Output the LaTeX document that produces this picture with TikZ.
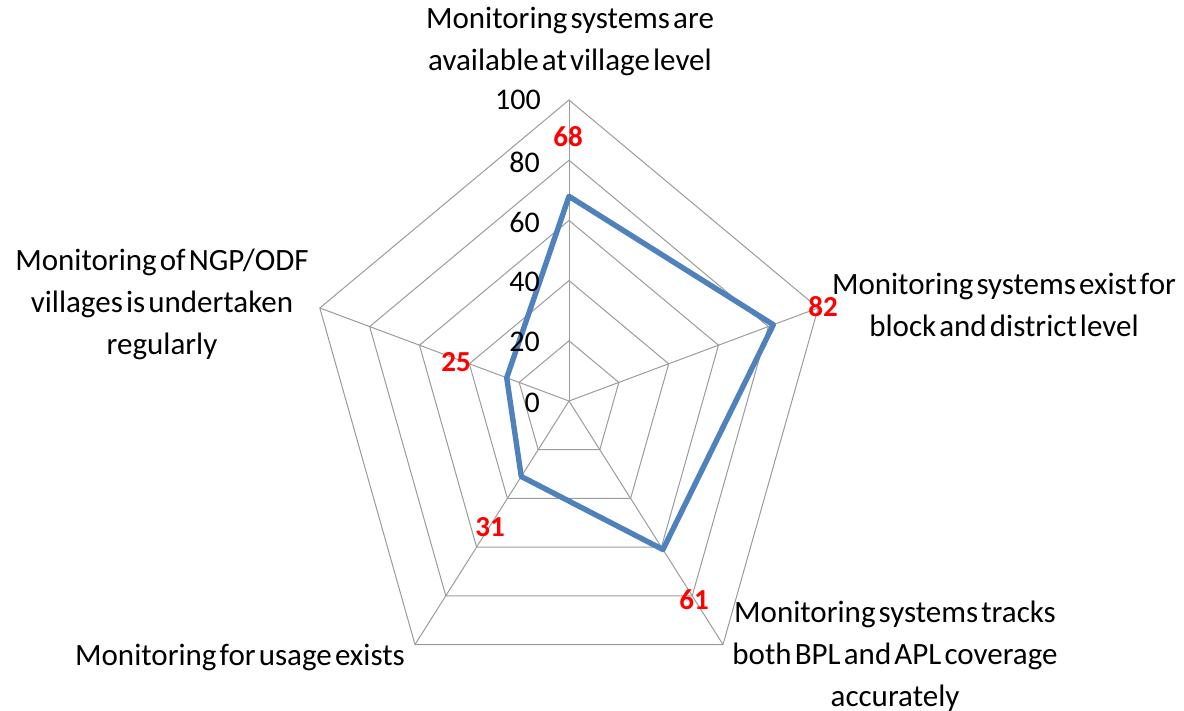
\documentclass[tikz,border=0pt]{standalone}
\usepackage{fontspec}
\setmainfont{Carlito}[WordSpace=0.45]
\definecolor{gridgray}{RGB}{155,155,155}
\definecolor{seriesblue}{RGB}{79,129,189}
\definecolor{valred}{RGB}{255,0,0}
\begin{document}
\begin{tikzpicture}[x=1pt,y=-1pt,
  grid/.style={draw=gridgray,line width=1pt},
  series/.style={draw=seriesblue,line width=5.4pt,line join=round},
  catlabel/.style={align=center,font=\fontsize{31}{42}\selectfont,text=black,inner sep=0pt},
  ticklabel/.style={anchor=east,font=\fontsize{30}{34}\selectfont,text=black,inner sep=0pt},
  vallabel/.style={font=\bfseries\fontsize{29}{32}\selectfont,text=valred,inner sep=0pt}]
\useasboundingbox (0,0) rectangle (1184,711);
% centre of the chart and the five axis directions
\coordinate (c) at (569,401);
\def\axes{1/90,2/18,3/-54,4/-126,5/162}
% ring points on each axis
\foreach \i/\a in \axes {
  \foreach \r in {20,40,60,80,100} {
    \coordinate (v\i-\r) at ({569+2.62*\r*cos(\a)},{401-3.01*\r*sin(\a)});
  }
}
% pentagonal rings and spokes
\foreach \r in {20,40,60,80,100} {
  \draw[grid] (v1-\r) -- (v2-\r) -- (v3-\r) -- (v4-\r) -- (v5-\r) -- cycle;
}
\foreach \i in {1,...,5} { \draw[grid] (c) -- (v\i-100); }
% data values
\coordinate (d1) at ({569+2.62*68*cos(90)},{401-3.01*68*sin(90)});
\coordinate (d2) at ({569+2.62*82*cos(18)},{401-3.01*82*sin(18)});
\coordinate (d3) at ({569+2.62*61*cos(-54)},{401-3.01*61*sin(-54)});
\coordinate (d4) at ({569+2.62*31*cos(-126)},{401-3.01*31*sin(-126)});
\coordinate (d5) at ({569+2.62*25*cos(162)},{401-3.01*25*sin(162)});
\draw[series] (d1) -- (d2) -- (d3) -- (d4) -- (d5) -- cycle;
% scale along the vertical axis
\node[ticklabel] (t100) at (541,100) {100};
\node[ticklabel] (t80) at (540,162) {80};
\node[ticklabel] (t60) at (540,222) {60};
\node[ticklabel] (t40) at (540,282) {40};
\node[ticklabel] (t20) at (540,342) {20};
\node[ticklabel] (t0) at (540,403) {0};
% value labels
\node[vallabel] (l1) at (568,137) {68};
\node[vallabel] (l2) at (823,307) {82};
\node[vallabel] (l3) at (694,600) {61};
\node[vallabel] (l4) at (490,527) {31};
\node[vallabel] (l5) at (456,362) {25};
% category labels
\node[catlabel] (k1) at (570,42) {Monitoring systems are\\available at village level};
\node[catlabel] (k2) at (1004,305) {Monitoring systems exist for\\block and district level};
\node[catlabel] (k3) at (895,656) {Monitoring systems tracks\\both BPL and APL coverage\\accurately};
\node[catlabel] (k4) at (240,657) {Monitoring for usage exists};
\node[catlabel] (k5) at (162,304) {Monitoring of NGP/ODF\\villages is undertaken\\regularly};
\end{tikzpicture}
\end{document}
